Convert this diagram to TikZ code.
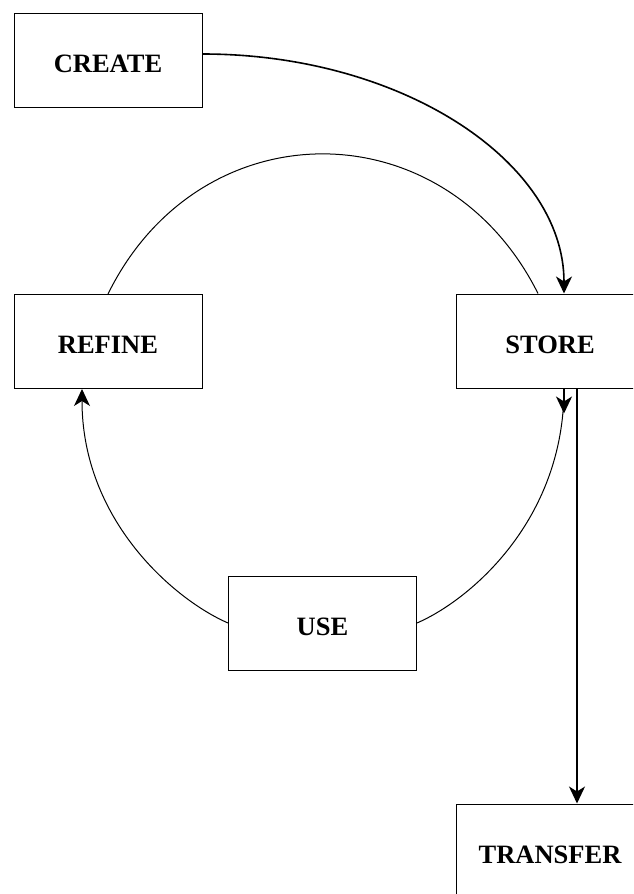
\documentclass[tikz,border=0pt]{standalone}
\usepackage{fontspec}
\setmainfont{Liberation Serif}
\usetikzlibrary{arrows.meta}

\tikzstyle{box} = [draw, line width=1pt, minimum width=188pt, minimum height=94pt, inner sep=0pt,
  text height=24pt, text depth=0pt, font=\fontsize{26.5}{30}\selectfont\bfseries]
\tikzstyle{arc} = [line width=1pt]
\tikzstyle{arw} = [line width=1.6pt, -{Stealth[length=17pt,width=16pt,inset=5pt]}]

\begin{document}
\begin{tikzpicture}[x=1pt,y=-1pt]
\useasboundingbox (0,0) rectangle (633,894);
\clip (0,0) rectangle (633,894);

\node[box] (create) at (108,60) {CREATE};
\node[box] (refine) at (108,341.5) {REFINE};
\node[box] (store) at (550,341) {STORE};
\node[box] (use) at (322.5,623) {USE};
\node[box] (transfer) at (550,851) {TRANSFER};

% create goes into the cycle
\draw[arw] ([yshift=6pt]create.east) .. controls +(199,0) and +(0,-132) .. ([xshift=14pt]store.north);

% the cycle
\draw[arc] (refine.north) .. controls +(92,-187) and +(-93,-186) .. ([xshift=-12pt]store.north);
\draw[arc] ([xshift=14pt]store.south) .. controls +(0,132) and +(53,-23) .. (use.east);
\draw[arw] ([xshift=14pt]store.south) -- ++(0,25);
\draw[arc, -{Stealth[length=17pt,width=16pt,inset=5pt]}] (use.west) .. controls +(-53,-23) and +(0,132) .. ([xshift=-26pt]refine.south);

% out of the cycle
\draw[arw] ([xshift=27pt]store.south) -- ([xshift=27pt]transfer.north);

\end{tikzpicture}
\end{document}
